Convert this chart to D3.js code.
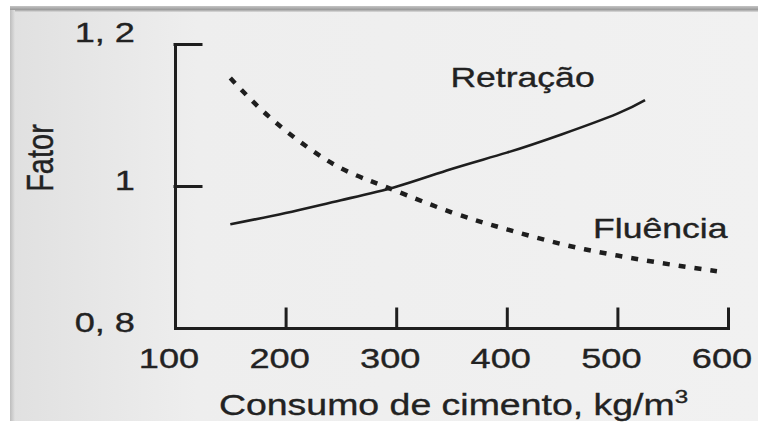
<!DOCTYPE html>
<html>
<head>
<meta charset="utf-8">
<script src="https://cdn.jsdelivr.net/npm/d3@7"></script>
<style>
  body { margin: 0; background: #ffffff; }
  text { font-family: "Liberation Sans", Arial, sans-serif; fill: #222; stroke: #222; stroke-width: 0.35px; }
</style>
</head>
<body>
<div id="chart"></div>
<script>
// values
const cimento = [150, 175, 200, 225, 250, 275, 300, 350, 400, 450, 500, 550, 590];
const fluencia = [1.152, 1.112, 1.078, 1.049, 1.025, 1.008, 0.993, 0.963, 0.939, 0.918, 0.902, 0.889, 0.880];

const cimentoRet = [150, 200, 250, 300, 350, 400, 450, 500, 525];
const retracao = [0.946, 0.962, 0.980, 0.999, 1.024, 1.047, 1.073, 1.102, 1.121];

const xTicks = [100, 200, 300, 400, 500, 600];
const yTicks = [0.8, 1.0, 1.2];
const yTickLabels = ["0, 8", "1", "1, 2"];

const curveLabels = [
  {text: "Retração", x: 349, y: 1.139},
  {text: "Fluência", x: 478, y: 0.927}
];

const W = 758, H = 423;
const margin = {top: 44, right: 30, bottom: 95, left: 175};
const width = W - margin.left - margin.right;
const height = H - margin.top - margin.bottom;
const stretch = 1.27; // the photo is wider than tall

const svg = d3.select("#chart").append("svg")
  .attr("width", W)
  .attr("height", H);

// photographed page
const defs = svg.append("defs");
const pg = defs.append("linearGradient").attr("id", "page").attr("x1", 0).attr("x2", 1).attr("y1", 0).attr("y2", 0);
pg.append("stop").attr("offset", "0%").attr("stop-color", "#e0e0e0");
pg.append("stop").attr("offset", "25%").attr("stop-color", "#eeeeee");
pg.append("stop").attr("offset", "100%").attr("stop-color", "#f1f1f1");
const tg = defs.append("linearGradient").attr("id", "topEdge").attr("x1", 0).attr("x2", 0).attr("y1", 0).attr("y2", 1);
tg.append("stop").attr("offset", "0%").attr("stop-color", "#c4c4c4");
tg.append("stop").attr("offset", "60%").attr("stop-color", "#9c9c9c");
tg.append("stop").attr("offset", "100%").attr("stop-color", "#dcdcdc");
const lg = defs.append("linearGradient").attr("id", "leftEdge").attr("x1", 0).attr("x2", 1).attr("y1", 0).attr("y2", 0);
lg.append("stop").attr("offset", "0%").attr("stop-color", "#bdbdbd");
lg.append("stop").attr("offset", "100%").attr("stop-color", "#e0e0e0");

svg.append("rect").attr("x", 10).attr("y", 8).attr("width", W - 10).attr("height", H - 10)
  .attr("fill", "url(#page)");
svg.append("rect").attr("x", 10).attr("y", 6).attr("width", W - 10).attr("height", 6)
  .attr("fill", "url(#topEdge)");
svg.append("rect").attr("x", 10).attr("y", 10).attr("width", 5).attr("height", H - 12)
  .attr("fill", "url(#leftEdge)");

const g = svg.append("g")
  .attr("transform", `translate(${margin.left},${margin.top})`);

const x = d3.scaleLinear().domain([100, 600]).range([0, width]);
const y = d3.scaleLinear().domain([0.8, 1.2]).range([height, 0]);

// axes, ticks point inside
const xAxis = d3.axisBottom(x).tickValues(xTicks.slice(1)).tickSizeInner(-19).tickSizeOuter(0).tickFormat("");
const yAxis = d3.axisLeft(y).tickValues(yTicks.slice(1)).tickSizeInner(-26).tickSizeOuter(0).tickFormat("");

const xg = g.append("g").attr("transform", `translate(0,${height})`).call(xAxis);
const yg = g.append("g").call(yAxis);
[xg, yg].forEach(a => {
  a.selectAll("path, line").attr("stroke", "#1e1e1e").attr("stroke-width", 3).attr("stroke-linecap", "square");
});

// tick labels
g.selectAll(".xlab").data(xTicks).join("text")
  .attr("class", "xlab")
  .attr("transform", d => `translate(${x(d) - 6},${height + 40}) scale(${stretch},1)`)
  .attr("text-anchor", "middle")
  .style("font-size", "28.5px")
  .text(d => d);

g.selectAll(".ylab").data(yTicks).join("text")
  .attr("class", "ylab")
  .attr("transform", (d, i) => `translate(${-40},${y(d) + (i == 2 ? -2 : 4)}) scale(${stretch},1)`)
  .attr("text-anchor", "end")
  .style("font-size", "28.5px")
  .text((d, i) => yTickLabels[i]);

// axis titles
const xt = g.append("text")
  .attr("transform", `translate(${width / 2 + 2},${height + 87}) scale(${stretch},1)`)
  .attr("text-anchor", "middle")
  .style("font-size", "29.5px");
xt.append("tspan").text("Consumo de cimento, kg/m");
xt.append("tspan").attr("dy", -12).style("font-size", "19px").text("3");

g.append("text")
  .attr("transform", `translate(${-122},${114}) rotate(-90) scale(1,1.25)`)
  .attr("text-anchor", "middle")
  .style("font-size", "29px")
  .text("Fator");

// curves
const line = d3.line()
  .x(d => x(d[0]))
  .y(d => y(d[1]))
  .curve(d3.curveNatural);

g.append("path")
  .datum(d3.zip(cimentoRet, retracao))
  .attr("fill", "none")
  .attr("stroke", "#1e1e1e")
  .attr("stroke-width", 2.6)
  .attr("d", line);

g.append("path")
  .datum(d3.zip(cimento, fluencia))
  .attr("fill", "none")
  .attr("stroke", "#1e1e1e")
  .attr("stroke-width", 4.5)
  .attr("stroke-dasharray", "7,9")
  .attr("d", line);

g.selectAll(".clab").data(curveLabels).join("text")
  .attr("class", "clab")
  .attr("transform", d => `translate(${x(d.x)},${y(d.y)}) scale(${stretch},1)`)
  .style("font-size", "28px")
  .text(d => d.text);
</script>
</body>
</html>
